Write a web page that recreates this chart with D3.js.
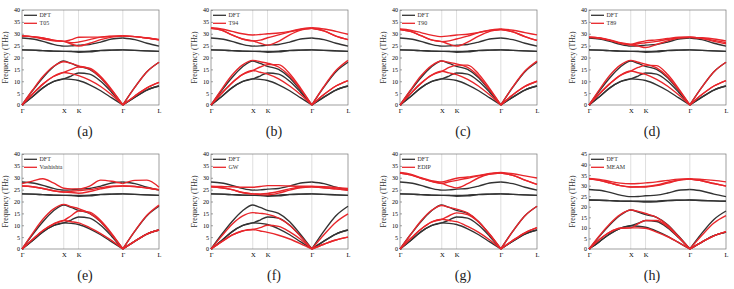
<!DOCTYPE html>
<html>
<head>
<meta charset="utf-8">
<script src="https://cdn.jsdelivr.net/npm/d3@7"></script>
<style>
  body { margin: 0; background: #fff; }
  svg { display: block; }
  .axis path, .axis line { stroke: #777; stroke-width: 0.7; }
</style>
</head>
<body>
<div id="chart"></div>
<script>
'use strict';

// k-path positions (Γ-X-K-Γ-L), sampled points
const kPts = [0, 0.25, 0.5, 0.75, 1.0, 1.177, 1.354, 1.619, 1.884, 2.149, 2.414, 2.703, 2.991, 3.28];
const symPos = [0, 1.0, 1.354, 2.414, 3.28];
const symLabels = ['Γ', 'X', 'K', 'Γ', 'L'];

// DFT reference branches (THz)
const dft = [
  [0, 3.5, 7.2, 9.8, 11.0, 10.8, 10.3, 8.5, 6.0, 3.0, 0, 3.3, 6.3, 8.0],
  [0, 3.5, 7.2, 9.8, 11.0, 12.2, 13.5, 13.0, 10.0, 5.3, 0, 3.3, 6.3, 8.0],
  [0, 6.0, 11.5, 16.0, 18.5, 17.5, 16.3, 15.0, 11.5, 6.0, 0, 7.5, 14.0, 18.0],
  [23.2, 23.1, 22.9, 22.7, 22.6, 22.5, 22.2, 22.4, 22.9, 23.1, 23.2, 23.0, 22.8, 22.6],
  [23.2, 23.1, 22.9, 22.7, 22.6, 22.6, 22.6, 22.7, 23.0, 23.1, 23.2, 23.0, 22.8, 22.6],
  [28.2, 27.8, 26.8, 25.5, 24.8, 24.9, 25.2, 25.5, 26.5, 27.8, 28.2, 27.5, 26.0, 24.8]
];

const t05 = [
  [0, 4.5, 8.8, 12.0, 13.7, 13.2, 12.4, 10.5, 7.8, 4.2, 0, 3.8, 7.2, 9.5],
  [0, 4.5, 8.8, 12.0, 13.7, 15.0, 16.0, 15.5, 12.0, 6.5, 0, 3.8, 7.2, 9.5],
  [0, 6.2, 12.0, 16.2, 18.2, 17.5, 16.5, 15.2, 11.5, 6.0, 0, 7.5, 14.0, 18.0],
  [29.0, 28.8, 28.2, 27.3, 26.8, 25.7, 24.8, 26.0, 27.5, 28.6, 29.0, 28.8, 28.2, 27.4],
  [29.0, 28.8, 28.2, 27.3, 26.8, 27.5, 28.5, 28.6, 28.6, 28.9, 29.0, 28.8, 28.2, 27.4],
  [29.2, 28.7, 27.8, 27.0, 26.8, 26.2, 26.5, 27.5, 28.6, 29.0, 29.2, 28.8, 28.2, 27.6]
];

const t94 = [
  [0, 4.8, 9.3, 12.8, 14.5, 13.8, 13.0, 11.0, 8.0, 4.3, 0, 4.4, 8.0, 10.3],
  [0, 4.8, 9.3, 12.8, 14.5, 16.0, 17.0, 17.0, 13.2, 7.0, 0, 4.4, 8.0, 10.3],
  [0, 6.5, 12.5, 16.8, 18.8, 18.2, 17.6, 16.0, 12.2, 6.5, 0, 7.8, 14.5, 18.8],
  [32.3, 31.5, 29.5, 27.8, 27.0, 26.0, 25.2, 26.8, 29.5, 31.5, 32.3, 31.2, 29.0, 27.5],
  [32.3, 31.5, 29.5, 27.8, 27.0, 27.3, 28.3, 29.5, 30.8, 31.8, 32.3, 31.2, 29.0, 27.5],
  [32.5, 32.0, 31.0, 30.0, 29.5, 29.7, 30.0, 30.3, 31.0, 32.0, 32.5, 32.0, 31.0, 29.8]
];

const t90 = [
  [0, 4.7, 9.1, 12.5, 14.2, 13.5, 12.8, 10.8, 7.9, 4.2, 0, 4.3, 7.8, 10.0],
  [0, 4.7, 9.1, 12.5, 14.2, 15.8, 16.8, 16.8, 13.0, 6.9, 0, 4.3, 7.8, 10.0],
  [0, 6.3, 12.2, 16.5, 18.5, 17.9, 17.3, 15.8, 12.0, 6.3, 0, 7.7, 14.3, 18.5],
  [31.8, 31.0, 29.2, 27.4, 26.7, 25.6, 24.8, 26.5, 29.0, 31.0, 31.8, 30.8, 28.8, 27.2],
  [31.8, 31.0, 29.2, 27.4, 26.7, 27.0, 27.8, 29.0, 30.5, 31.4, 31.8, 30.8, 28.8, 27.2],
  [32.0, 31.5, 30.5, 29.4, 28.8, 29.1, 29.5, 29.8, 30.6, 31.5, 32.0, 31.5, 30.5, 29.5]
];

const t89 = [
  [0, 4.7, 9.0, 12.5, 14.3, 13.6, 12.9, 10.8, 7.9, 4.2, 0, 4.4, 8.0, 10.3],
  [0, 4.7, 9.0, 12.5, 14.3, 15.8, 16.8, 16.6, 12.8, 6.8, 0, 4.4, 8.0, 10.3],
  [0, 6.5, 12.5, 16.8, 18.8, 18.0, 17.2, 15.6, 11.9, 6.3, 0, 7.5, 14.0, 18.0],
  [28.5, 28.2, 27.2, 26.0, 25.3, 24.8, 24.2, 25.5, 27.0, 28.2, 28.5, 28.0, 26.8, 25.8],
  [28.5, 28.2, 27.2, 26.0, 25.3, 25.8, 26.2, 26.8, 27.6, 28.3, 28.5, 28.1, 27.2, 26.3],
  [28.6, 28.2, 27.4, 26.2, 25.6, 26.3, 27.0, 27.4, 28.0, 28.5, 28.6, 28.3, 27.8, 27.0]
];

const vashishta = [
  [0, 4.0, 7.8, 10.5, 12.0, 11.5, 11.0, 9.0, 6.5, 3.5, 0, 3.3, 6.3, 8.0],
  [0, 4.0, 7.8, 10.5, 12.0, 14.0, 16.0, 15.5, 12.0, 6.5, 0, 3.3, 6.3, 8.0],
  [0, 6.5, 12.5, 16.8, 18.8, 17.8, 17.0, 15.0, 11.5, 6.0, 0, 7.6, 14.2, 18.5],
  [26.5, 26.2, 25.5, 24.5, 24.0, 23.8, 23.5, 24.2, 25.3, 26.2, 26.5, 26.3, 25.7, 25.0],
  [26.5, 26.2, 25.5, 24.5, 24.0, 24.3, 24.6, 25.0, 25.8, 26.4, 26.5, 26.3, 25.7, 25.0],
  [27.5, 28.6, 29.6, 27.8, 25.6, 25.3, 25.3, 26.5, 29.0, 28.5, 27.5, 28.9, 29.0, 26.0]
];

const gw = [
  [0, 3.0, 5.8, 7.6, 8.2, 7.6, 7.0, 5.8, 4.2, 2.2, 0, 2.0, 3.8, 5.0],
  [0, 3.0, 5.8, 7.6, 8.2, 9.0, 10.0, 9.5, 7.2, 4.0, 0, 2.0, 3.8, 5.0],
  [0, 5.3, 10.3, 13.8, 15.3, 15.0, 14.6, 13.0, 10.0, 5.3, 0, 6.0, 11.3, 14.8],
  [26.2, 25.8, 25.0, 23.8, 23.2, 22.9, 22.8, 23.5, 24.8, 25.8, 26.2, 25.8, 25.3, 24.8],
  [26.2, 25.8, 25.0, 23.8, 23.2, 23.2, 23.4, 24.2, 25.3, 26.0, 26.2, 25.8, 25.3, 24.8],
  [26.4, 26.3, 26.2, 26.0, 26.0, 26.3, 26.7, 26.7, 26.5, 26.4, 26.4, 26.2, 25.9, 25.5]
];

const edip = [
  [0, 4.3, 8.3, 11.3, 12.5, 12.0, 11.5, 9.5, 7.0, 3.8, 0, 3.6, 6.8, 9.0],
  [0, 4.3, 8.3, 11.3, 12.5, 14.0, 15.2, 14.5, 11.3, 6.2, 0, 3.6, 6.8, 9.0],
  [0, 6.0, 11.8, 16.2, 18.3, 17.5, 16.8, 15.2, 11.5, 6.0, 0, 7.5, 14.0, 18.0],
  [32.0, 31.2, 29.8, 28.5, 27.6, 26.5, 25.7, 27.5, 30.0, 31.5, 32.0, 31.0, 29.0, 27.2],
  [32.0, 31.2, 29.8, 28.5, 27.6, 28.3, 28.9, 29.8, 30.8, 31.6, 32.0, 31.0, 29.0, 27.2],
  [32.2, 31.5, 30.0, 28.8, 28.2, 29.0, 29.8, 30.3, 31.0, 31.8, 32.2, 31.7, 30.8, 29.9]
];

const meam = [
  [0, 4.5, 8.0, 9.8, 10.0, 10.0, 9.8, 8.0, 5.8, 3.0, 0, 3.3, 6.2, 8.2],
  [0, 4.5, 8.0, 9.8, 10.0, 12.0, 13.5, 13.5, 10.5, 5.5, 0, 3.3, 6.2, 8.2],
  [0, 6.3, 12.0, 16.3, 18.5, 17.8, 16.8, 15.0, 11.2, 5.8, 0, 6.5, 12.3, 15.8],
  [33.2, 32.5, 31.3, 30.0, 29.4, 29.3, 29.4, 30.0, 31.2, 32.5, 33.1, 32.3, 31.0, 29.8],
  [33.2, 32.5, 31.3, 30.0, 29.4, 29.5, 29.6, 30.3, 31.6, 32.7, 33.1, 32.3, 31.0, 29.8],
  [33.4, 33.0, 32.0, 31.2, 30.9, 31.0, 31.3, 31.8, 32.5, 33.1, 33.3, 33.0, 32.5, 31.8]
];

const panelTags = ['(a)', '(b)', '(c)', '(d)', '(e)', '(f)', '(g)', '(h)'];
const modelNames = ['T05', 'T94', 'T90', 'T89', 'Vashishta', 'GW', 'EDIP', 'MEAM'];
const modelData = [t05, t94, t90, t89, vashishta, gw, edip, meam];
const yMaxes = [40, 40, 40, 40, 40, 40, 40, 45];

// Layout
const W = 734, H = 289;
const colX = [22, 211, 400, 589];
const rowY = [10, 154];
const pw = 137, ph = 95;
const black = '#333333', red = '#e8262b';
const serif = "'Liberation Serif', 'Times New Roman', 'DejaVu Serif', serif";

const svg = d3.select('#chart').append('svg')
  .attr('width', W).attr('height', H);

const gammaIdx = kPts.indexOf(2.414);

panelTags.forEach((tag, i) => {
  const x0 = colX[i % 4], y0 = rowY[Math.floor(i / 4)];
  const g = svg.append('g');

  const x = d3.scaleLinear().domain([0, 3.28]).range([x0, x0 + pw]);
  const y = d3.scaleLinear().domain([0, yMaxes[i]]).range([y0 + ph, y0]);

  // vertical grid at high symmetry points
  g.selectAll('line.grid')
    .data(symPos.slice(1, 4))
    .join('line')
    .attr('x1', d => x(d)).attr('x2', d => x(d))
    .attr('y1', y0).attr('y2', y0 + ph)
    .attr('stroke', '#c8c8c8').attr('stroke-width', 0.6);

  // frame
  g.append('rect')
    .attr('x', x0).attr('y', y0).attr('width', pw).attr('height', ph)
    .attr('fill', 'none').attr('stroke', '#777').attr('stroke-width', 0.7);

  g.append('g').attr('class', 'axis')
    .attr('transform', `translate(${x0},0)`)
    .call(d3.axisLeft(y).tickValues(d3.range(0, yMaxes[i] + 1, 5)).tickSizeInner(-2).tickSizeOuter(0).tickPadding(2))
    .call(a => a.select('.domain').remove())
    .selectAll('text').style('font-size', '6px');

  g.append('g').attr('class', 'axis')
    .attr('transform', `translate(0,${y0 + ph})`)
    .call(d3.axisBottom(x).tickValues(symPos).tickFormat((d, j) => symLabels[j]).tickSize(0).tickPadding(3))
    .call(a => a.select('.domain').remove())
    .selectAll('text').style('font-size', '6.5px');

  // y label
  g.append('text')
    .attr('transform', `translate(${x0 - 14}, ${y0 + ph / 2}) rotate(-90)`)
    .attr('text-anchor', 'middle')
    .style('font-size', '7.5px').attr('fill', '#333')
    .text('Frequency (THz)');

  // curves: split at the middle Γ so the acoustic V-shape stays sharp
  const line = d3.line()
    .x(d => x(d[0])).y(d => y(d[1]))
    .curve(d3.curveMonotoneX);

  const pieces = branch => {
    const pts = kPts.map((k, j) => [k, branch[j]]);
    return [pts.slice(0, gammaIdx + 1), pts.slice(gammaIdx)];
  };

  const drawSet = (set, color) => {
    g.append('g').selectAll('path')
      .data(set.flatMap(pieces))
      .join('path')
      .attr('d', line)
      .attr('fill', 'none')
      .attr('stroke', color)
      .attr('stroke-width', 1.4);
  };

  drawSet(dft, black);
  drawSet(modelData[i], red);

  // legend
  const leg = g.append('g');
  [['DFT', black], [modelNames[i], red]].forEach(([name, color], j) => {
    const ly = y0 + 5.3 + j * 8;
    leg.append('line')
      .attr('x1', x0 + 2).attr('x2', x0 + 15)
      .attr('y1', ly).attr('y2', ly)
      .attr('stroke', color).attr('stroke-width', 1.3);
    leg.append('text')
      .attr('x', x0 + 17.5).attr('y', ly + 2)
      .style('font-size', '6px').attr('fill', '#333')
      .text(name);
  });

  // panel tag
  g.append('text')
    .attr('x', x0 + 63).attr('y', y0 + 123)
    .attr('text-anchor', 'middle').attr('dominant-baseline', 'middle')
    .style('font-size', '14px').attr('fill', '#222')
    .text(tag);
});

// serif everywhere, overriding the axis default
svg.selectAll('g.axis').attr('font-family', null);
svg.selectAll('text').style('font-family', serif);
</script>
</body>
</html>
